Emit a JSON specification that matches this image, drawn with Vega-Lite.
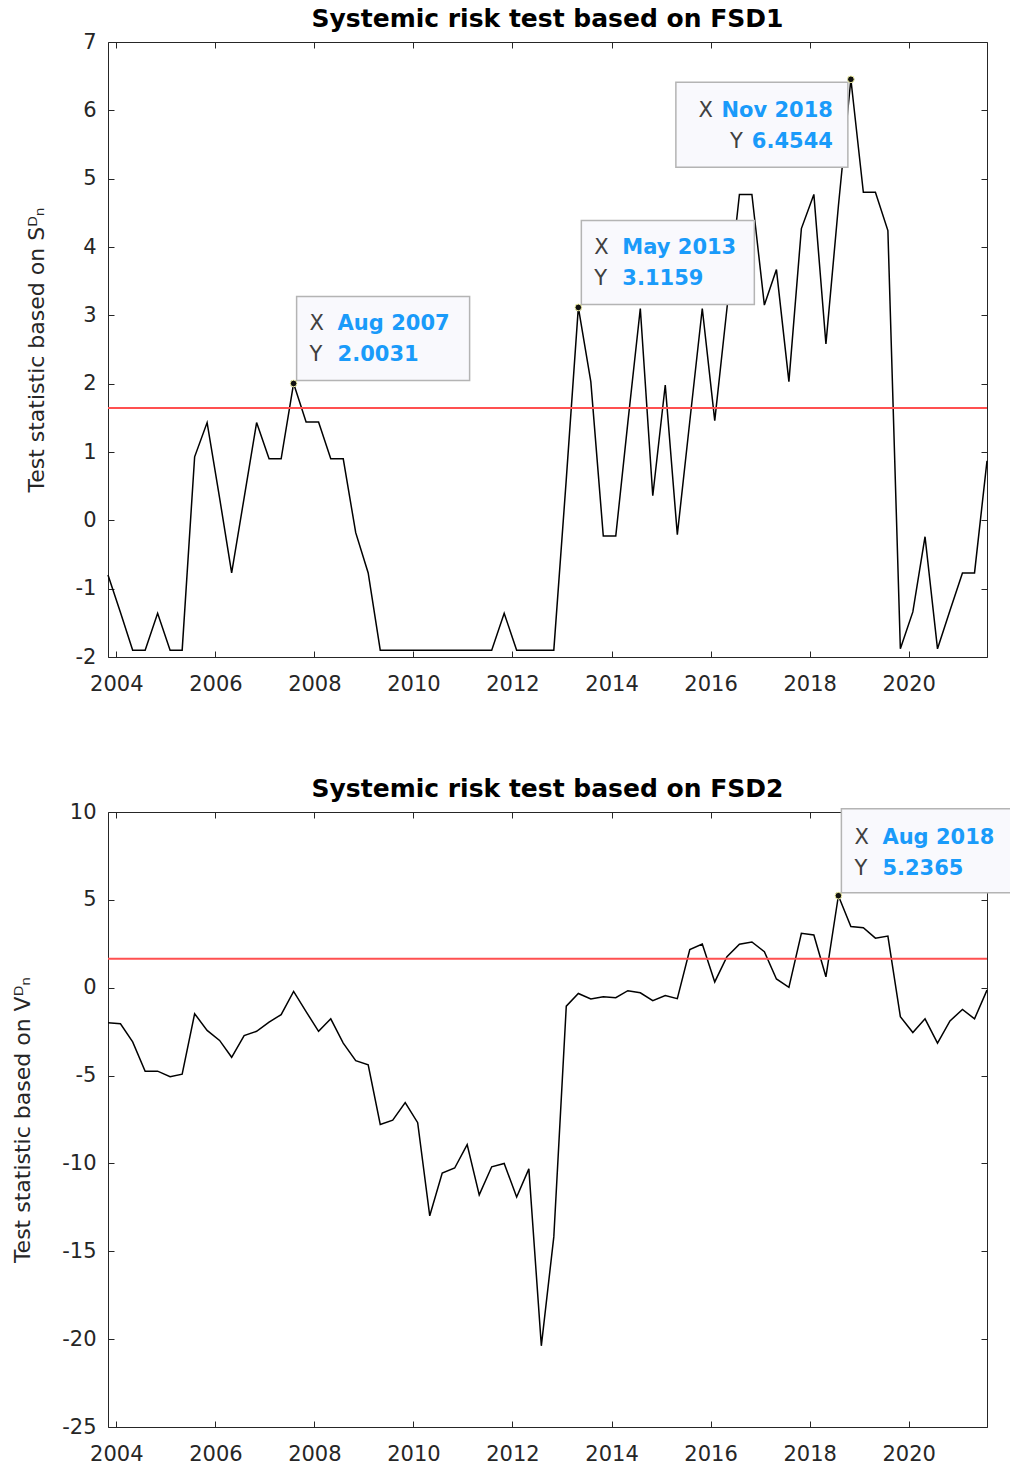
{
  "$schema": "https://vega.github.io/schema/vega-lite/v6.json",
  "background": "white",
  "padding": {"left": 11, "top": 7, "right": 0, "bottom": 0},
  "spacing": 83,
  "config": {
    "view": {"stroke": null},
    "font": "DejaVu Sans",
    "axis": {
      "grid": false,
      "labelFont": "DejaVu Sans",
      "labelFontSize": 21,
      "labelColor": "#262626",
      "titleFont": "DejaVu Sans",
      "titleFontSize": 22,
      "titleFontWeight": "normal",
      "titleColor": "#262626",
      "domainColor": "#262626",
      "domainWidth": 1,
      "tickColor": "#262626",
      "tickSize": -6,
      "tickWidth": 1
    },
    "title": {"font": "DejaVu Sans", "fontSize": 25, "fontWeight": "bold", "color": "#000000", "anchor": "middle", "offset": -1}
  },
  "datasets": {
    "fsd1": [
      {"date": "2003-11-01", "value": -0.8},
      {"date": "2004-02-01", "value": -1.35},
      {"date": "2004-05-01", "value": -1.9},
      {"date": "2004-08-01", "value": -1.9},
      {"date": "2004-11-01", "value": -1.36},
      {"date": "2005-02-01", "value": -1.9},
      {"date": "2005-05-01", "value": -1.9},
      {"date": "2005-08-01", "value": 0.93},
      {"date": "2005-11-01", "value": 1.43},
      {"date": "2006-02-01", "value": 0.33},
      {"date": "2006-05-01", "value": -0.77},
      {"date": "2006-08-01", "value": 0.33},
      {"date": "2006-11-01", "value": 1.43},
      {"date": "2007-02-01", "value": 0.9},
      {"date": "2007-05-01", "value": 0.9},
      {"date": "2007-08-01", "value": 2.0031},
      {"date": "2007-11-01", "value": 1.44},
      {"date": "2008-02-01", "value": 1.44},
      {"date": "2008-05-01", "value": 0.9},
      {"date": "2008-08-01", "value": 0.9},
      {"date": "2008-11-01", "value": -0.18},
      {"date": "2009-02-01", "value": -0.77},
      {"date": "2009-05-01", "value": -1.9},
      {"date": "2009-08-01", "value": -1.9},
      {"date": "2009-11-01", "value": -1.9},
      {"date": "2010-02-01", "value": -1.9},
      {"date": "2010-05-01", "value": -1.9},
      {"date": "2010-08-01", "value": -1.9},
      {"date": "2010-11-01", "value": -1.9},
      {"date": "2011-02-01", "value": -1.9},
      {"date": "2011-05-01", "value": -1.9},
      {"date": "2011-08-01", "value": -1.9},
      {"date": "2011-11-01", "value": -1.36},
      {"date": "2012-02-01", "value": -1.9},
      {"date": "2012-05-01", "value": -1.9},
      {"date": "2012-08-01", "value": -1.9},
      {"date": "2012-11-01", "value": -1.9},
      {"date": "2013-02-01", "value": 0.6},
      {"date": "2013-05-01", "value": 3.1159},
      {"date": "2013-08-01", "value": 2.03},
      {"date": "2013-11-01", "value": -0.23},
      {"date": "2014-02-01", "value": -0.23},
      {"date": "2014-05-01", "value": 1.43},
      {"date": "2014-08-01", "value": 3.1},
      {"date": "2014-11-01", "value": 0.36},
      {"date": "2015-02-01", "value": 1.98},
      {"date": "2015-05-01", "value": -0.21},
      {"date": "2015-08-01", "value": 1.45},
      {"date": "2015-11-01", "value": 3.1},
      {"date": "2016-02-01", "value": 1.46},
      {"date": "2016-05-01", "value": 3.1},
      {"date": "2016-08-01", "value": 4.77},
      {"date": "2016-11-01", "value": 4.77},
      {"date": "2017-02-01", "value": 3.15},
      {"date": "2017-05-01", "value": 3.67},
      {"date": "2017-08-01", "value": 2.03},
      {"date": "2017-11-01", "value": 4.27},
      {"date": "2018-02-01", "value": 4.77},
      {"date": "2018-05-01", "value": 2.58},
      {"date": "2018-08-01", "value": 4.6},
      {"date": "2018-11-01", "value": 6.4544},
      {"date": "2019-02-01", "value": 4.8},
      {"date": "2019-05-01", "value": 4.8},
      {"date": "2019-08-01", "value": 4.24},
      {"date": "2019-11-01", "value": -1.88},
      {"date": "2020-02-01", "value": -1.34},
      {"date": "2020-05-01", "value": -0.24},
      {"date": "2020-08-01", "value": -1.88},
      {"date": "2020-11-01", "value": -1.32},
      {"date": "2021-02-01", "value": -0.77},
      {"date": "2021-05-01", "value": -0.77},
      {"date": "2021-08-01", "value": 0.87}
    ],
    "fsd2": [
      {"date": "2003-11-01", "value": -2.0},
      {"date": "2004-02-01", "value": -2.05},
      {"date": "2004-05-01", "value": -3.08},
      {"date": "2004-08-01", "value": -4.75},
      {"date": "2004-11-01", "value": -4.75},
      {"date": "2005-02-01", "value": -5.06},
      {"date": "2005-05-01", "value": -4.92},
      {"date": "2005-08-01", "value": -1.48},
      {"date": "2005-11-01", "value": -2.43},
      {"date": "2006-02-01", "value": -3.0},
      {"date": "2006-05-01", "value": -3.96},
      {"date": "2006-08-01", "value": -2.72},
      {"date": "2006-11-01", "value": -2.48},
      {"date": "2007-02-01", "value": -1.96},
      {"date": "2007-05-01", "value": -1.53},
      {"date": "2007-08-01", "value": -0.21},
      {"date": "2007-11-01", "value": -1.36},
      {"date": "2008-02-01", "value": -2.48},
      {"date": "2008-05-01", "value": -1.77},
      {"date": "2008-08-01", "value": -3.15},
      {"date": "2008-11-01", "value": -4.15},
      {"date": "2009-02-01", "value": -4.39},
      {"date": "2009-05-01", "value": -7.78},
      {"date": "2009-08-01", "value": -7.54},
      {"date": "2009-11-01", "value": -6.54},
      {"date": "2010-02-01", "value": -7.68},
      {"date": "2010-05-01", "value": -12.98},
      {"date": "2010-08-01", "value": -10.55},
      {"date": "2010-11-01", "value": -10.26},
      {"date": "2011-02-01", "value": -8.93},
      {"date": "2011-05-01", "value": -11.79},
      {"date": "2011-08-01", "value": -10.19},
      {"date": "2011-11-01", "value": -10.0},
      {"date": "2012-02-01", "value": -11.91},
      {"date": "2012-05-01", "value": -10.31},
      {"date": "2012-08-01", "value": -20.38},
      {"date": "2012-11-01", "value": -14.18},
      {"date": "2013-02-01", "value": -1.05},
      {"date": "2013-05-01", "value": -0.33},
      {"date": "2013-08-01", "value": -0.64},
      {"date": "2013-11-01", "value": -0.52},
      {"date": "2014-02-01", "value": -0.57},
      {"date": "2014-05-01", "value": -0.17},
      {"date": "2014-08-01", "value": -0.29},
      {"date": "2014-11-01", "value": -0.74},
      {"date": "2015-02-01", "value": -0.45},
      {"date": "2015-05-01", "value": -0.62},
      {"date": "2015-08-01", "value": 2.17},
      {"date": "2015-11-01", "value": 2.48},
      {"date": "2016-02-01", "value": 0.33},
      {"date": "2016-05-01", "value": 1.77},
      {"date": "2016-08-01", "value": 2.48},
      {"date": "2016-11-01", "value": 2.6},
      {"date": "2017-02-01", "value": 2.05},
      {"date": "2017-05-01", "value": 0.5},
      {"date": "2017-08-01", "value": 0.02},
      {"date": "2017-11-01", "value": 3.1},
      {"date": "2018-02-01", "value": 3.0},
      {"date": "2018-05-01", "value": 0.62},
      {"date": "2018-08-01", "value": 5.2365},
      {"date": "2018-11-01", "value": 3.48},
      {"date": "2019-02-01", "value": 3.41},
      {"date": "2019-05-01", "value": 2.82},
      {"date": "2019-08-01", "value": 2.94},
      {"date": "2019-11-01", "value": -1.65},
      {"date": "2020-02-01", "value": -2.55},
      {"date": "2020-05-01", "value": -1.77},
      {"date": "2020-08-01", "value": -3.15},
      {"date": "2020-11-01", "value": -1.89},
      {"date": "2021-02-01", "value": -1.24},
      {"date": "2021-05-01", "value": -1.77},
      {"date": "2021-08-01", "value": -0.14}
    ],
    "tips1": [
      {"date": "2007-08-01", "value": 2.0031, "xlab": "Aug 2007", "ylab": "2.0031", "side": "right"},
      {"date": "2013-05-01", "value": 3.1159, "xlab": "May 2013", "ylab": "3.1159", "side": "right"},
      {"date": "2018-11-01", "value": 6.4544, "xlab": "Nov 2018", "ylab": "6.4544", "side": "left"}
    ],
    "tips2": [
      {"date": "2018-08-01", "value": 5.2365, "xlab": "Aug 2018", "ylab": "5.2365", "side": "right"}
    ]
  },
  "vconcat": [
    {
      "width": 879,
      "height": 615,
      "title": "Systemic risk test based on FSD1",
      "resolve": {"axis": {"x": "independent", "y": "independent"}},
      "layer": [
        {
          "data": {"name": "fsd1"},
          "mark": {"type": "line", "color": "#000000", "strokeWidth": 1.5},
          "encoding": {
            "x": {"field": "date", "type": "temporal", "scale": {"type": "utc", "domain": [{"year": 2003, "month": 11, "date": 1, "utc": true}, {"year": 2021, "month": 8, "date": 1, "utc": true}]},
              "axis": {"orient": "bottom", "title": null, "format": "%Y", "labelPadding": 22, "values": [{"year": 2004, "utc": true}, {"year": 2006, "utc": true}, {"year": 2008, "utc": true}, {"year": 2010, "utc": true}, {"year": 2012, "utc": true}, {"year": 2014, "utc": true}, {"year": 2016, "utc": true}, {"year": 2018, "utc": true}, {"year": 2020, "utc": true}]}},
            "y": {"field": "value", "type": "quantitative", "scale": {"domain": [-2, 7], "nice": false, "zero": false},
              "axis": {"orient": "left", "title": "Test statistic based on Sᴰₙ", "titlePadding": 27, "labelPadding": 18, "values": [-2, -1, 0, 1, 2, 3, 4, 5, 6, 7], "labelExpr": "replace(datum.label, '\u2212', '-')"}}
          }
        },
        {
          "data": {"name": "fsd1"},
          "mark": {"type": "line", "opacity": 0},
          "encoding": {
            "x": {"field": "date", "type": "temporal", "scale": {"type": "utc", "domain": [{"year": 2003, "month": 11, "date": 1, "utc": true}, {"year": 2021, "month": 8, "date": 1, "utc": true}]},
              "axis": {"orient": "top", "title": null, "labels": false, "values": [{"year": 2004, "utc": true}, {"year": 2006, "utc": true}, {"year": 2008, "utc": true}, {"year": 2010, "utc": true}, {"year": 2012, "utc": true}, {"year": 2014, "utc": true}, {"year": 2016, "utc": true}, {"year": 2018, "utc": true}, {"year": 2020, "utc": true}]}},
            "y": {"field": "value", "type": "quantitative", "scale": {"domain": [-2, 7], "nice": false, "zero": false},
              "axis": {"orient": "right", "title": null, "labels": false, "values": [-2, -1, 0, 1, 2, 3, 4, 5, 6, 7]}}
          }
        },
        {
          "data": {"values": [{}]},
          "mark": {"type": "rule", "color": "#ff5050", "strokeWidth": 2},
          "encoding": {
            "y": {"datum": 1.645, "type": "quantitative", "scale": {"domain": [-2, 7], "nice": false, "zero": false}, "axis": null}
          }
        },
        {
          "data": {"name": "tips1"},
          "transform": [{"filter": "datum.side == 'right'"}],
          "mark": {"type": "point", "shape": "M0.03,-0.87L1.76,-0.87L1.76,-0.03L0.03,-0.03Z", "size": 40000, "filled": true, "fill": "#f9f9fd", "stroke": "#b4b4b4", "strokeWidth": 1.5, "opacity": 1},
          "encoding": {
            "x": {"field": "date", "type": "temporal", "axis": null},
            "y": {"field": "value", "type": "quantitative", "axis": null}
          }
        },
        {
          "data": {"name": "tips1"},
          "transform": [{"filter": "datum.side == 'left'"}],
          "mark": {"type": "point", "shape": "M-1.75,0.03L-0.03,0.03L-0.03,0.88L-1.75,0.88Z", "size": 40000, "filled": true, "fill": "#f9f9fd", "stroke": "#b4b4b4", "strokeWidth": 1.5, "opacity": 1},
          "encoding": {
            "x": {"field": "date", "type": "temporal", "axis": null},
            "y": {"field": "value", "type": "quantitative", "axis": null}
          }
        },
        {
          "data": {"name": "tips1"},
          "mark": {"type": "point", "shape": "circle", "size": 45, "filled": true, "fill": "#111111", "stroke": "#f3f3a8", "strokeWidth": 1, "opacity": 1},
          "encoding": {
            "x": {"field": "date", "type": "temporal", "axis": null},
            "y": {"field": "value", "type": "quantitative", "axis": null}
          }
        },
        {
          "data": {"name": "tips1"},
          "transform": [{"filter": "datum.side == 'right'"}],
          "mark": {"type": "text", "align": "left", "baseline": "middle", "dx": 16, "dy": -59, "font": "DejaVu Sans", "fontSize": 21, "color": "#404040"},
          "encoding": {
            "x": {"field": "date", "type": "temporal", "axis": null},
            "y": {"field": "value", "type": "quantitative", "axis": null},
            "text": {"value": "X"}
          }
        },
        {
          "data": {"name": "tips1"},
          "transform": [{"filter": "datum.side == 'right'"}],
          "mark": {"type": "text", "align": "left", "baseline": "middle", "dx": 16, "dy": -28, "font": "DejaVu Sans", "fontSize": 21, "color": "#404040"},
          "encoding": {
            "x": {"field": "date", "type": "temporal", "axis": null},
            "y": {"field": "value", "type": "quantitative", "axis": null},
            "text": {"value": "Y"}
          }
        },
        {
          "data": {"name": "tips1"},
          "transform": [{"filter": "datum.side == 'right'"}],
          "mark": {"type": "text", "align": "left", "baseline": "middle", "dx": 44, "dy": -59, "font": "DejaVu Sans", "fontSize": 21, "fontWeight": "bold", "color": "#1a9bfa"},
          "encoding": {
            "x": {"field": "date", "type": "temporal", "axis": null},
            "y": {"field": "value", "type": "quantitative", "axis": null},
            "text": {"field": "xlab"}
          }
        },
        {
          "data": {"name": "tips1"},
          "transform": [{"filter": "datum.side == 'right'"}],
          "mark": {"type": "text", "align": "left", "baseline": "middle", "dx": 44, "dy": -28, "font": "DejaVu Sans", "fontSize": 21, "fontWeight": "bold", "color": "#1a9bfa"},
          "encoding": {
            "x": {"field": "date", "type": "temporal", "axis": null},
            "y": {"field": "value", "type": "quantitative", "axis": null},
            "text": {"field": "ylab"}
          }
        },
        {
          "data": {"name": "tips1"},
          "transform": [{"filter": "datum.side == 'left'"}],
          "mark": {"type": "text", "align": "right", "baseline": "middle", "dx": -138, "dy": 32, "font": "DejaVu Sans", "fontSize": 21, "color": "#404040"},
          "encoding": {
            "x": {"field": "date", "type": "temporal", "axis": null},
            "y": {"field": "value", "type": "quantitative", "axis": null},
            "text": {"value": "X"}
          }
        },
        {
          "data": {"name": "tips1"},
          "transform": [{"filter": "datum.side == 'left'"}],
          "mark": {"type": "text", "align": "right", "baseline": "middle", "dx": -108, "dy": 63, "font": "DejaVu Sans", "fontSize": 21, "color": "#404040"},
          "encoding": {
            "x": {"field": "date", "type": "temporal", "axis": null},
            "y": {"field": "value", "type": "quantitative", "axis": null},
            "text": {"value": "Y"}
          }
        },
        {
          "data": {"name": "tips1"},
          "transform": [{"filter": "datum.side == 'left'"}],
          "mark": {"type": "text", "align": "right", "baseline": "middle", "dx": -18, "dy": 32, "font": "DejaVu Sans", "fontSize": 21, "fontWeight": "bold", "color": "#1a9bfa"},
          "encoding": {
            "x": {"field": "date", "type": "temporal", "axis": null},
            "y": {"field": "value", "type": "quantitative", "axis": null},
            "text": {"field": "xlab"}
          }
        },
        {
          "data": {"name": "tips1"},
          "transform": [{"filter": "datum.side == 'left'"}],
          "mark": {"type": "text", "align": "right", "baseline": "middle", "dx": -18, "dy": 63, "font": "DejaVu Sans", "fontSize": 21, "fontWeight": "bold", "color": "#1a9bfa"},
          "encoding": {
            "x": {"field": "date", "type": "temporal", "axis": null},
            "y": {"field": "value", "type": "quantitative", "axis": null},
            "text": {"field": "ylab"}
          }
        }
      ]
    },
    {
      "width": 879,
      "height": 615,
      "title": "Systemic risk test based on FSD2",
      "resolve": {"axis": {"x": "independent", "y": "independent"}},
      "layer": [
        {
          "data": {"name": "fsd2"},
          "mark": {"type": "line", "color": "#000000", "strokeWidth": 1.5},
          "encoding": {
            "x": {"field": "date", "type": "temporal", "scale": {"type": "utc", "domain": [{"year": 2003, "month": 11, "date": 1, "utc": true}, {"year": 2021, "month": 8, "date": 1, "utc": true}]},
              "axis": {"orient": "bottom", "title": null, "format": "%Y", "labelPadding": 22, "values": [{"year": 2004, "utc": true}, {"year": 2006, "utc": true}, {"year": 2008, "utc": true}, {"year": 2010, "utc": true}, {"year": 2012, "utc": true}, {"year": 2014, "utc": true}, {"year": 2016, "utc": true}, {"year": 2018, "utc": true}, {"year": 2020, "utc": true}]}},
            "y": {"field": "value", "type": "quantitative", "scale": {"domain": [-25, 10], "nice": false, "zero": false},
              "axis": {"orient": "left", "title": "Test statistic based on Vᴰₙ", "titlePadding": 27, "labelPadding": 18, "values": [-25, -20, -15, -10, -5, 0, 5, 10], "labelExpr": "replace(datum.label, '\u2212', '-')"}}
          }
        },
        {
          "data": {"name": "fsd2"},
          "mark": {"type": "line", "opacity": 0},
          "encoding": {
            "x": {"field": "date", "type": "temporal", "scale": {"type": "utc", "domain": [{"year": 2003, "month": 11, "date": 1, "utc": true}, {"year": 2021, "month": 8, "date": 1, "utc": true}]},
              "axis": {"orient": "top", "title": null, "labels": false, "values": [{"year": 2004, "utc": true}, {"year": 2006, "utc": true}, {"year": 2008, "utc": true}, {"year": 2010, "utc": true}, {"year": 2012, "utc": true}, {"year": 2014, "utc": true}, {"year": 2016, "utc": true}, {"year": 2018, "utc": true}, {"year": 2020, "utc": true}]}},
            "y": {"field": "value", "type": "quantitative", "scale": {"domain": [-25, 10], "nice": false, "zero": false},
              "axis": {"orient": "right", "title": null, "labels": false, "values": [-25, -20, -15, -10, -5, 0, 5, 10]}}
          }
        },
        {
          "data": {"values": [{}]},
          "mark": {"type": "rule", "color": "#ff5050", "strokeWidth": 2},
          "encoding": {
            "y": {"datum": 1.645, "type": "quantitative", "scale": {"domain": [-25, 10], "nice": false, "zero": false}, "axis": null}
          }
        },
        {
          "data": {"name": "tips2"},
          "mark": {"type": "point", "shape": "M0.03,-0.87L1.76,-0.87L1.76,-0.03L0.03,-0.03Z", "size": 40000, "filled": true, "fill": "#f9f9fd", "stroke": "#b4b4b4", "strokeWidth": 1.5, "opacity": 1},
          "encoding": {
            "x": {"field": "date", "type": "temporal", "axis": null},
            "y": {"field": "value", "type": "quantitative", "axis": null}
          }
        },
        {
          "data": {"name": "tips2"},
          "mark": {"type": "point", "shape": "circle", "size": 45, "filled": true, "fill": "#111111", "stroke": "#f3f3a8", "strokeWidth": 1, "opacity": 1},
          "encoding": {
            "x": {"field": "date", "type": "temporal", "axis": null},
            "y": {"field": "value", "type": "quantitative", "axis": null}
          }
        },
        {
          "data": {"name": "tips2"},
          "mark": {"type": "text", "align": "left", "baseline": "middle", "dx": 16, "dy": -58, "font": "DejaVu Sans", "fontSize": 21, "color": "#404040"},
          "encoding": {
            "x": {"field": "date", "type": "temporal", "axis": null},
            "y": {"field": "value", "type": "quantitative", "axis": null},
            "text": {"value": "X"}
          }
        },
        {
          "data": {"name": "tips2"},
          "mark": {"type": "text", "align": "left", "baseline": "middle", "dx": 16, "dy": -27, "font": "DejaVu Sans", "fontSize": 21, "color": "#404040"},
          "encoding": {
            "x": {"field": "date", "type": "temporal", "axis": null},
            "y": {"field": "value", "type": "quantitative", "axis": null},
            "text": {"value": "Y"}
          }
        },
        {
          "data": {"name": "tips2"},
          "mark": {"type": "text", "align": "left", "baseline": "middle", "dx": 44, "dy": -58, "font": "DejaVu Sans", "fontSize": 21, "fontWeight": "bold", "color": "#1a9bfa"},
          "encoding": {
            "x": {"field": "date", "type": "temporal", "axis": null},
            "y": {"field": "value", "type": "quantitative", "axis": null},
            "text": {"field": "xlab"}
          }
        },
        {
          "data": {"name": "tips2"},
          "mark": {"type": "text", "align": "left", "baseline": "middle", "dx": 44, "dy": -27, "font": "DejaVu Sans", "fontSize": 21, "fontWeight": "bold", "color": "#1a9bfa"},
          "encoding": {
            "x": {"field": "date", "type": "temporal", "axis": null},
            "y": {"field": "value", "type": "quantitative", "axis": null},
            "text": {"field": "ylab"}
          }
        }
      ]
    }
  ]
}
